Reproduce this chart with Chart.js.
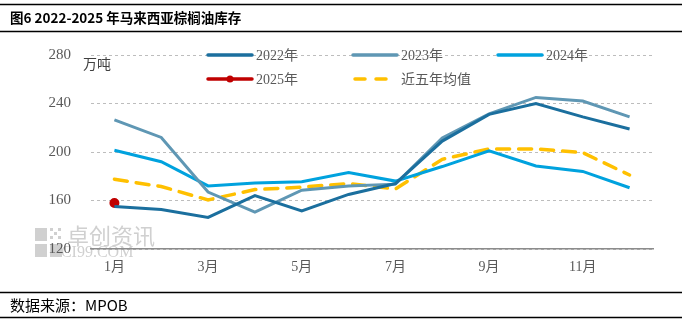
<!DOCTYPE html>
<html>
<head>
<meta charset="utf-8">
<script src="https://cdn.jsdelivr.net/npm/chart.js@4.4.1/dist/chart.umd.min.js"></script>
<style>
body { margin: 0; background: #fff; }
#wrap { width: 687px; height: 325px; position: relative; }
</style>
</head>
<body>
<div id="wrap"><canvas id="stockChart" width="687" height="325"></canvas></div>

<script>
// 月份
var months = ["1月", "2月", "3月", "4月", "5月", "6月", "7月", "8月", "9月", "10月", "11月", "12月"];

// 库存 万吨
var stock2022 = [155, 152.5, 146, 164, 151.5, 165, 174, 209, 231, 240, 229, 219];
var stock2023 = [226.5, 212, 167, 150.5, 168.5, 172, 173.5, 211.5, 231.5, 245, 242, 229];
var stock2024 = [201.5, 192, 172, 174.5, 175.5, 183, 176, 188, 201, 188.5, 184, 170.5];
var stock2025 = [158];
var avg5y = [177.5, 171.5, 160.5, 169, 171, 174, 169.5, 194, 202.5, 202.5, 199.5, 181];

var yTicks = [120, 160, 200, 240, 280];

var serif = "'Liberation Serif', 'Noto Sans CJK SC', serif";
var cjk = "'Noto Sans CJK SC', sans-serif";

var legendItems = [
	{ text: "2022年", color: "#1b6f9e", x: 208, y: 55 },
	{ text: "2023年", color: "#5f97b4", x: 353, y: 55 },
	{ text: "2024年", color: "#00a2de", x: 498, y: 55 },
	{ text: "2025年", color: "#c00000", x: 208, y: 79, dot: true },
	{ text: "近五年均值", color: "#ffc000", x: 353, y: 79, dash: true }
];

// 标题、图例、水印、来源
var decor = {
	id: "decor",
	beforeDraw: function(chart) {
		var c = chart.ctx;
		c.save();
		c.fillStyle = "#fff";
		c.fillRect(0, 0, chart.width, chart.height);

		// 水印
		c.fillStyle = "#d0d0d0";
		c.fillRect(35, 228, 12, 13);
		c.fillRect(35, 244, 12, 13);
		c.fillRect(50, 244, 12, 13);
		for (var i = 0; i < 3; i++) {
			for (var j = 0; j < 3; j++) {
				if ((i + j) % 2 == 0) c.fillRect(50 + i * 4, 228 + j * 4, 3, 3);
			}
		}
		c.font = "22px " + cjk;
		c.textBaseline = "middle";
		c.fillText("卓创资讯", 67, 236);
		c.font = "16px 'Liberation Serif', serif";
		c.fillText("SCI99.COM", 52, 253);

		c.restore();
	},
	afterDraw: function(chart) {
		var c = chart.ctx;
		c.save();
		c.strokeStyle = "#000";
		c.lineWidth = 1.5;
		[4.5, 31.5, 292.5, 317.5].forEach(function(y) {
			c.beginPath();
			c.moveTo(0, y);
			c.lineTo(682, y);
			c.stroke();
		});
		c.fillStyle = "#000";
		c.textBaseline = "middle";
		c.font = "bold 13.5px " + cjk;
		c.fillText("图6 2022-2025 年马来西亚棕榈油库存", 10, 18);
		c.font = "15px " + cjk;
		c.fillText("数据来源：MPOB", 10, 305);

		c.fillStyle = "#404040";
		c.font = "14px " + cjk;
		c.fillText("万吨", 83, 64);

		// 图例
		legendItems.forEach(function(it) {
			c.strokeStyle = it.color;
			c.lineWidth = 3.5;
			c.lineCap = "round";
			c.setLineDash(it.dash ? [10, 11] : []);
			c.beginPath();
			c.moveTo(it.dash ? it.x + 2 : it.x, it.y);
			c.lineTo(it.x + 44, it.y);
			c.stroke();
			c.setLineDash([]);
			if (it.dot) {
				c.fillStyle = it.color;
				c.beginPath();
				c.arc(it.x + 22, it.y, 3.5, 0, Math.PI * 2);
				c.fill();
			}
			c.fillStyle = "#595959";
			c.font = "14px " + serif;
			c.fillText(it.text, it.x + 48, it.y + 1);
		});
		c.restore();
	}
};

new Chart("stockChart", {
	type: "line",
	data: {
		labels: months,
		datasets: [
			{ label: "2022年", data: stock2022, borderColor: "#1b6f9e", borderWidth: 3, pointRadius: 0, tension: 0 },
			{ label: "2023年", data: stock2023, borderColor: "#5f97b4", borderWidth: 3, pointRadius: 0, tension: 0 },
			{ label: "2024年", data: stock2024, borderColor: "#00a2de", borderWidth: 3, pointRadius: 0, tension: 0 },
			{ label: "近五年均值", data: avg5y, borderColor: "#ffc000", borderWidth: 3.5, borderDash: [13, 9], borderCapStyle: "round", pointRadius: 0, tension: 0 },
			{ label: "2025年", data: stock2025, borderColor: "#c00000", backgroundColor: "#c00000", borderWidth: 3, pointRadius: 3.5, pointHoverRadius: 3.5 }
		]
	},
	options: {
		responsive: false,
		animation: false,
		events: [],
		layout: { padding: { left: 0, right: 34, top: 55, bottom: 46 } },
		plugins: {
			legend: { display: false },
			tooltip: { enabled: false }
		},
		scales: {
			x: {
				offset: true,
				grid: { display: false, drawTicks: false },
				border: { display: true, color: "#8c8c8c", width: 1.5 },
				ticks: {
					autoSkip: false,
					maxRotation: 0,
					padding: 10,
					color: "#595959",
					font: { family: serif, size: 14 },
					callback: function(v, i) { return i % 2 == 0 ? months[i] : ""; }
				},
				afterFit: function(s) { s.height = 30; }
			},
			y: {
				min: 120,
				max: 280,
				afterBuildTicks: function(s) { s.ticks = yTicks.map(function(v) { return { value: v }; }); },
				grid: { color: "#bdbdbd", lineWidth: 1, drawTicks: false },
				border: { display: false, dash: [3, 3] },
				ticks: {
					padding: 20,
					color: "#595959",
					font: { family: serif, size: 15 }
				},
				afterFit: function(s) { s.width = 91; }
			}
		}
	},
	plugins: [decor]
});
</script>
</body>
</html>
